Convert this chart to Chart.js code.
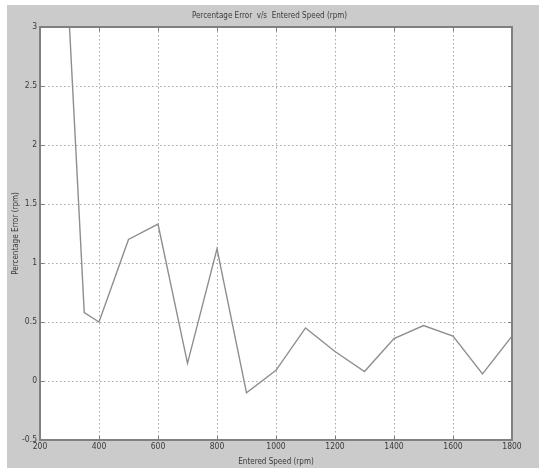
<!DOCTYPE html>
<html>
<head>
<meta charset="utf-8">
<script src="https://cdn.jsdelivr.net/npm/chart.js@4/dist/chart.umd.min.js"></script>
<style>
html,body{margin:0;padding:0;background:#ffffff;}
#wrap{width:539px;height:468px;position:relative;}
canvas{display:block;}
</style>
</head>
<body>
<div id="wrap"><canvas id="c" width="539" height="468"></canvas></div>
<script>
const titleText = "Percentage Error  v/s  Entered Speed (rpm)";
const xTitle = "Entered Speed (rpm)";
const yTitle = "Percentage Error (rpm)";
const speeds = [300, 350, 400, 500, 600, 700, 800, 900, 1000, 1100, 1200, 1300, 1400, 1500, 1600, 1700, 1800];
const errors = [3.0, 0.58, 0.5, 1.2, 1.33, 0.15, 1.12, -0.1, 0.09, 0.45, 0.25, 0.08, 0.36, 0.47, 0.38, 0.06, 0.38];
const xTicks = [200, 400, 600, 800, 1000, 1200, 1400, 1600, 1800];
const yTicks = [-0.5, 0, 0.5, 1, 1.5, 2, 2.5, 3];

const FONT = "'DejaVu Sans Condensed', 'Liberation Sans', Arial, sans-serif";
const GREY_BG = '#cbcbcb';
const TEXT = '#3a3a3a';

const framePlugin = {
  id: 'frame',
  beforeDraw(chart) {
    const ctx = chart.ctx;
    const a = chart.chartArea;
    ctx.save();
    ctx.fillStyle = '#ffffff';
    ctx.fillRect(0, 0, chart.width, chart.height);
    ctx.fillStyle = GREY_BG;
    ctx.fillRect(7, 5, chart.width - 7, chart.height - 5);
    ctx.fillStyle = '#ffffff';
    ctx.fillRect(a.left, a.top, a.right - a.left, a.bottom - a.top);
    ctx.restore();
  },
  afterDraw(chart) {
    const ctx = chart.ctx;
    const a = chart.chartArea;
    const xs = chart.scales.x, ys = chart.scales.y;
    ctx.save();
    ctx.strokeStyle = '#7a7a7a';
    ctx.lineWidth = 1;
    ctx.beginPath();
    xs.ticks.forEach(t => {
      const px = Math.round(xs.getPixelForValue(t.value)) + 0.5;
      ctx.moveTo(px, a.bottom); ctx.lineTo(px, a.bottom - 4);
      ctx.moveTo(px, a.top); ctx.lineTo(px, a.top + 4);
    });
    ys.ticks.forEach(t => {
      const py = Math.round(ys.getPixelForValue(t.value)) + 0.5;
      ctx.moveTo(a.left, py); ctx.lineTo(a.left + 4, py);
      ctx.moveTo(a.right, py); ctx.lineTo(a.right - 4, py);
    });
    ctx.stroke();
    ctx.strokeStyle = '#808080';
    ctx.lineWidth = 2;
    ctx.strokeRect(a.left, a.top, a.right - a.left, a.bottom - a.top);
    ctx.restore();
  }
};

new Chart(document.getElementById('c'), {
  type: 'line',
  data: {
    datasets: [{
      data: speeds.map((s, i) => ({x: s, y: errors[i]})),
      borderColor: '#8e8e8e',
      borderWidth: 1.4,
      pointRadius: 0,
      tension: 0,
      fill: false,
      clip: 2
    }]
  },
  options: {
    responsive: false,
    animation: false,
    devicePixelRatio: 1,
    layout: { padding: 0 },
    plugins: {
      legend: { display: false },
      tooltip: { enabled: false },
      title: {
        display: true,
        text: titleText,
        color: TEXT,
        font: { family: FONT, size: 8, weight: 'normal', lineHeight: 1.25 },
        padding: { top: 11, bottom: 6 }
      }
    },
    scales: {
      x: {
        type: 'linear',
        min: 200, max: 1800,
        afterBuildTicks(scale) { scale.ticks = xTicks.map(v => ({value: v})); },
        afterFit(scale) { scale.height = 28; },
        ticks: {
          autoSkip: false, maxRotation: 0, padding: 2,
          color: TEXT,
          font: { family: FONT, size: 8.5 },
          callback: v => String(v)
        },
        grid: { color: '#a8a8a8', lineWidth: 1, drawTicks: false },
        border: { display: false, dash: [1.5, 2.5] },
        title: {
          display: true, text: xTitle, color: TEXT,
          font: { family: FONT, size: 8, lineHeight: 1.25 },
          padding: { top: 0, bottom: 1 }
        }
      },
      y: {
        type: 'linear',
        min: -0.5, max: 3,
        afterBuildTicks(scale) { scale.ticks = yTicks.map(v => ({value: v})); },
        afterFit(scale) { scale.width = 40; },
        ticks: {
          padding: 3,
          color: TEXT,
          font: { family: FONT, size: 8.5 },
          callback: v => String(v)
        },
        grid: { color: '#a8a8a8', lineWidth: 1, drawTicks: false },
        border: { display: false, dash: [1.5, 2.5] },
        title: {
          display: true, text: yTitle, color: TEXT,
          font: { family: FONT, size: 8, lineHeight: 1.25 },
          padding: { top: 11, bottom: 0 }
        }
      },
      yRight: {
        type: 'linear',
        position: 'right',
        min: -0.5, max: 3,
        afterFit(scale) { scale.width = 27; },
        ticks: { display: false },
        grid: { display: false, drawTicks: false },
        border: { display: false }
      }
    }
  },
  plugins: [framePlugin]
});
</script>
</body>
</html>
